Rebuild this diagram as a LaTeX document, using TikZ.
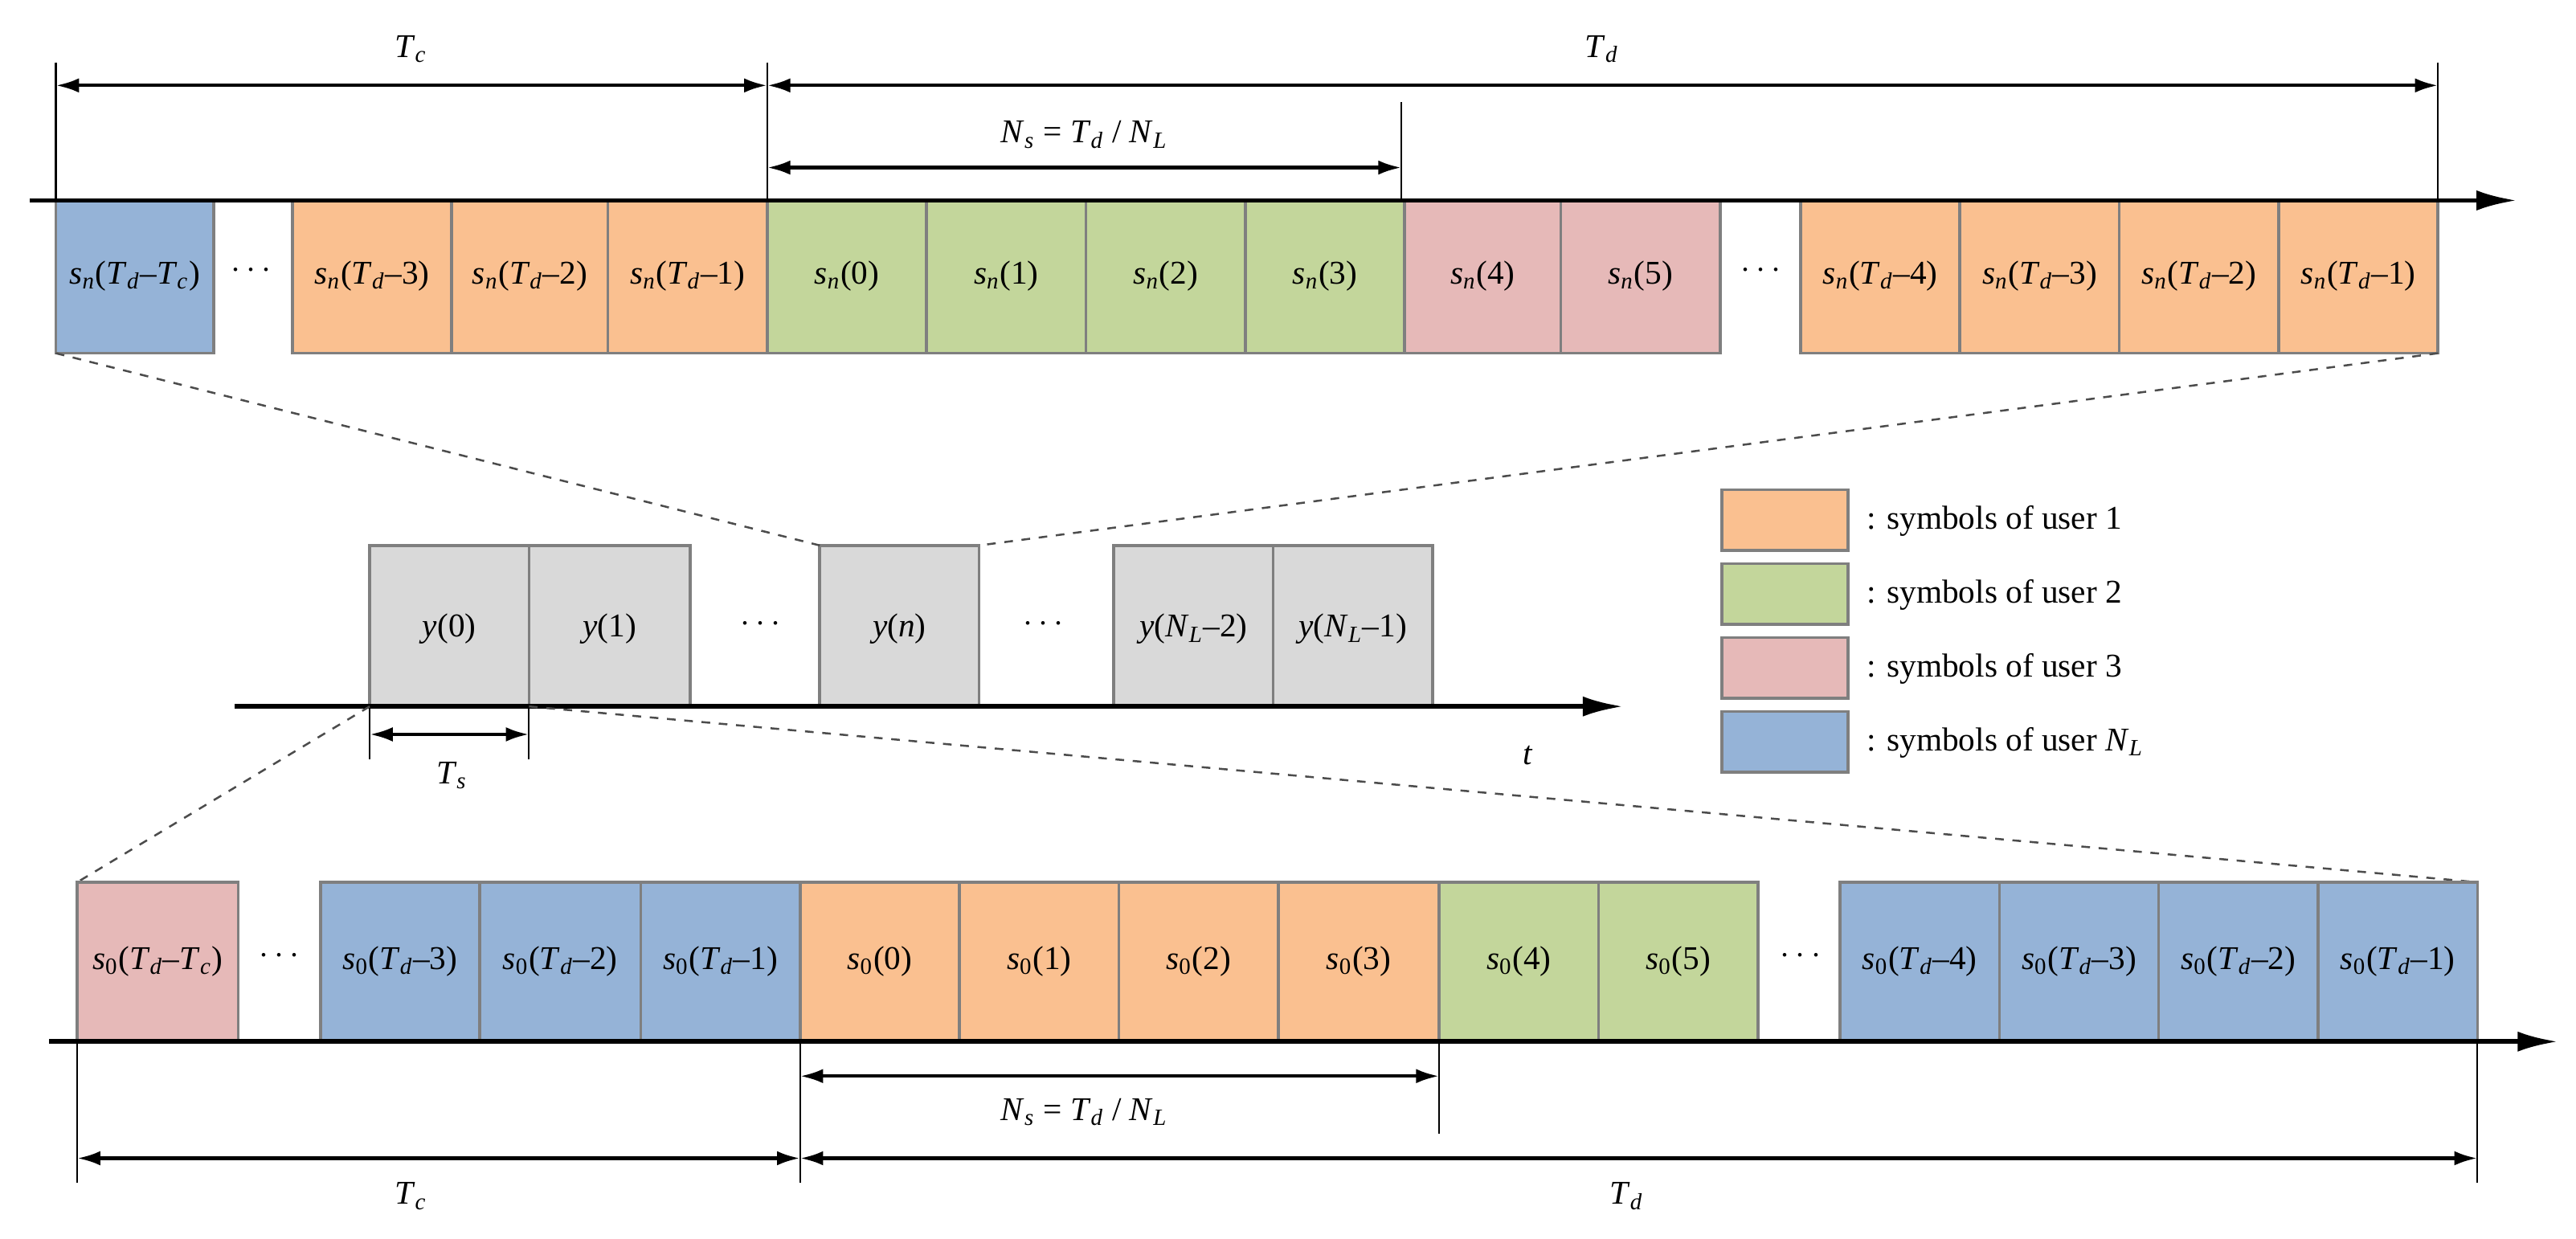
\documentclass[tikz,border=0pt]{standalone}
\usepackage{fontspec}
\setmainfont{Liberation Serif}
\usetikzlibrary{arrows.meta}
\newcommand\sv[2]{\textit{#1}\textsubscript{#2}}
\newcommand\vi[2]{\textit{#1}\textsubscript{\textit{#2}}}
\definecolor{cor}{HTML}{FAC090}
\definecolor{cgr}{HTML}{C3D69B}
\definecolor{cpk}{HTML}{E6B9B8}
\definecolor{cbl}{HTML}{95B3D7}
\definecolor{cgy}{HTML}{D9D9D9}
\definecolor{cbd}{HTML}{7F7F7F}
\begin{document}
\begin{tikzpicture}[x=0.02cm,y=-0.02cm,font=\fontsize{11.5}{13}\selectfont,
  box/.style={draw=cbd,line width=1pt,inner sep=0pt,outer sep=0pt},
  ax/.style={line width=1.6pt,-{Latex[length=14pt,width=7pt]}},
  dim/.style={line width=1.2pt,{Latex[length=8pt,width=5pt]}-{Latex[length=8pt,width=5pt]}},
  tk/.style={line width=0.6pt},
  dl/.style={dashed,draw=black!70,line width=0.7pt}]
\useasboundingbox (0,0) rectangle (1568,754);
% ---------- top row
\foreach \a/\b/\c/\t [count=\i] in {34/130/cbl/{\vi{s}{n}(\vi{T}{d}–\vi{T}{c})},
 178/275/cor/{\vi{s}{n}(\vi{T}{d}–3)},275/370/cor/{\vi{s}{n}(\vi{T}{d}–2)},370/467/cor/{\vi{s}{n}(\vi{T}{d}–1)},
 467/564/cgr/{\vi{s}{n}(0)},564/661/cgr/{\vi{s}{n}(1)},661/758/cgr/{\vi{s}{n}(2)},758/855/cgr/{\vi{s}{n}(3)},
 855/950/cpk/{\vi{s}{n}(4)},950/1047/cpk/{\vi{s}{n}(5)},
 1096/1193/cor/{\vi{s}{n}(\vi{T}{d}–4)},1193/1290/cor/{\vi{s}{n}(\vi{T}{d}–3)},1290/1387/cor/{\vi{s}{n}(\vi{T}{d}–2)},1387/1484/cor/{\vi{s}{n}(\vi{T}{d}–1)}}
 {\draw[box,fill=\c] (\a,122) rectangle (\b,215);
  \node (t\i) at ({(\a+\b)/2},168) {\t};}
\node (td1) at (153,165) {$\cdots$};
\node (td2) at (1072,165) {$\cdots$};
\coordinate (ta0) at (18,122); \coordinate (ta1) at (1532,122);
\draw[ax] (ta0) -- (ta1);
\foreach \x in {34,467,1484}{\draw[tk] (\x,38) -- (\x,122);}
\draw[tk] (853,62) -- (853,122);
\coordinate (u1) at (34,52); \coordinate (u2) at (467,52); \coordinate (u3) at (1484,52);
\draw[dim] (u1) -- (u2); \draw[dim] (u2) -- (u3);
\node (tTc) at (250,30) {\vi{T}{c}};
\node (tTd) at (975,30) {\vi{T}{d}};
\coordinate (n1) at (467,102); \coordinate (n2) at (853,102);
\draw[dim] (n1) -- (n2);
\node (tNs) at (660,82) {\vi{N}{s} = \vi{T}{d} / \vi{N}{L}};
% ---------- middle
\foreach \a/\b/\t [count=\i] in {225/322/{\textit{y}(0)},322/420/{\textit{y}(1)},499/596/{\textit{y}(\textit{n})},
 678/775/{\textit{y}(\vi{N}{L}–2)},775/872/{\textit{y}(\vi{N}{L}–1)}}
 {\draw[box,fill=cgy] (\a,332) rectangle (\b,430);
  \node (m\i) at ({(\a+\b)/2},383) {\t};}
\node (md1) at (463,380) {$\cdots$};
\node (md2) at (635,380) {$\cdots$};
\coordinate (ma0) at (143,430); \coordinate (ma1) at (988,430);
\draw[ax] (ma0) -- (ma1);
\draw[tk] (225,430) -- (225,462); \draw[tk] (322,430) -- (322,462);
\coordinate (s1) at (225,447); \coordinate (s2) at (322,447);
\draw[dim] (s1) -- (s2);
\node (mTs) at (275,472) {\vi{T}{s}};
\node (mt) at (930,460) {\textit{t}};
\draw[dl] (34,215) -- (499,332);
\draw[dl] (1484,215) -- (596,332);
\draw[dl] (225,430) -- (47,537);
\draw[dl] (322,430) -- (1508,537);
% ---------- legend
\foreach \c/\t [count=\i] in {cor/{1},cgr/{2},cpk/{3},cbl/{\textit{N}\textsubscript{\textit{L}}}}
 {\draw[box,fill=\c] (1048,{298+45*(\i-1)}) rectangle (1125,{335+45*(\i-1)});
  \node[anchor=west] (l\i) at (1130,{317+45*(\i-1)}) {: symbols of user \t};}
% ---------- bottom row
\foreach \a/\b/\c/\t [count=\i] in {47/145/cpk/{\sv{s}{0}(\vi{T}{d}–\vi{T}{c})},
 195/292/cbl/{\sv{s}{0}(\vi{T}{d}–3)},292/390/cbl/{\sv{s}{0}(\vi{T}{d}–2)},390/487/cbl/{\sv{s}{0}(\vi{T}{d}–1)},
 487/584/cor/{\sv{s}{0}(0)},584/681/cor/{\sv{s}{0}(1)},681/778/cor/{\sv{s}{0}(2)},778/876/cor/{\sv{s}{0}(3)},
 876/973/cgr/{\sv{s}{0}(4)},973/1070/cgr/{\sv{s}{0}(5)},
 1120/1217/cbl/{\sv{s}{0}(\vi{T}{d}–4)},1217/1314/cbl/{\sv{s}{0}(\vi{T}{d}–3)},1314/1411/cbl/{\sv{s}{0}(\vi{T}{d}–2)},1411/1508/cbl/{\sv{s}{0}(\vi{T}{d}–1)}}
 {\draw[box,fill=\c] (\a,537) rectangle (\b,634);
  \node (b\i) at ({(\a+\b)/2},585) {\t};}
\node (bd1) at (170,582) {$\cdots$};
\node (bd2) at (1096,582) {$\cdots$};
\coordinate (ba0) at (30,634); \coordinate (ba1) at (1557,634);
\draw[ax] (ba0) -- (ba1);
\draw[tk] (876,634) -- (876,690);
\coordinate (p1) at (487,655); \coordinate (p2) at (876,655);
\draw[dim] (p1) -- (p2);
\node (bNs) at (660,677) {\vi{N}{s} = \vi{T}{d} / \vi{N}{L}};
\foreach \x in {47,487,1508}{\draw[tk] (\x,634) -- (\x,720);}
\coordinate (q1) at (47,705); \coordinate (q2) at (487,705); \coordinate (q3) at (1508,705);
\draw[dim] (q1) -- (q2); \draw[dim] (q2) -- (q3);
\node (bTc) at (250,728) {\vi{T}{c}};
\node (bTd) at (990,728) {\vi{T}{d}};
\end{tikzpicture}
\end{document}
